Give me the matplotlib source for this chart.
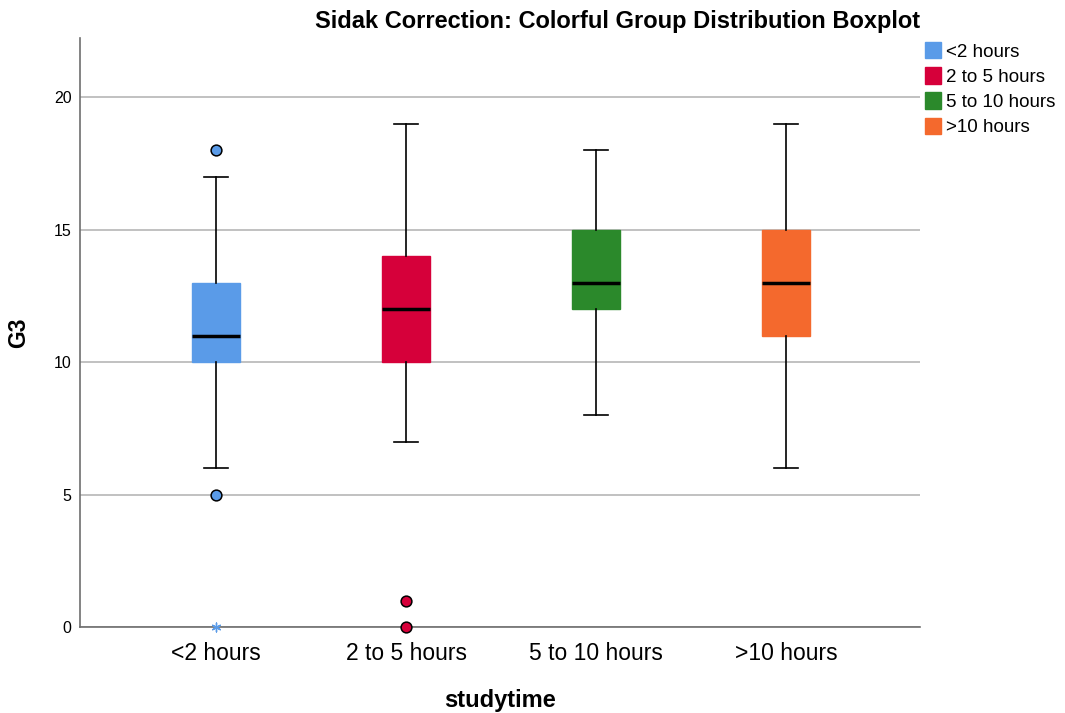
import numpy as np
import matplotlib.pyplot as plt
from matplotlib.patches import Patch

plt.rcParams['font.family'] = ['Liberation Sans', 'DejaVu Sans']

GROUPS = ['<2 hours', '2 to 5 hours', '5 to 10 hours', '>10 hours']
COLORS = ['#5a9be8', '#d6003a', '#2b892b', '#f4692d']

WHISLO = [6, 7, 8, 6]
Q1 = [10, 10, 12, 11]
MED = [11, 12, 13, 13]
Q3 = [13, 14, 15, 15]
WHISHI = [17, 19, 18, 19]
OUTLIERS = [[18, 5], [1, 0], [], []]
EXTREMES = [[0], [], [], []]

fig = plt.figure(figsize=(10.65, 7.13), dpi=100)
ax = fig.add_axes([80 / 1065, 1 - 627 / 713, 840 / 1065, 589 / 713])

stats = []
for i, g in enumerate(GROUPS):
  stats.append({'label': g, 'whislo': WHISLO[i], 'q1': Q1[i], 'med': MED[i],
                'q3': Q3[i], 'whishi': WHISHI[i], 'fliers': []})

pos = np.arange(len(GROUPS))
bp = ax.bxp(stats, positions=pos, widths=0.25, patch_artist=True,
            showfliers=False,
            whiskerprops=dict(color='black', linewidth=1.2),
            capprops=dict(color='black', linewidth=1.2),
            medianprops=dict(color='black', linewidth=2.5),
            capwidths=0.126, zorder=3)
for box, c in zip(bp['boxes'], COLORS):
  box.set_facecolor(c)
  box.set_edgecolor(c)

for i in range(len(GROUPS)):
  if OUTLIERS[i]:
    ax.scatter([pos[i]] * len(OUTLIERS[i]), OUTLIERS[i], s=60,
               facecolor=COLORS[i], edgecolor='black', linewidth=1.1,
               zorder=5, clip_on=False)
  if EXTREMES[i]:
    ax.scatter([pos[i]] * len(EXTREMES[i]), EXTREMES[i], s=40,
               marker=(6, 2, 0), color=COLORS[i], linewidth=1.0,
               zorder=5, clip_on=False)

ax.set_xlim(-0.716, 3.705)
ax.set_ylim(0, 22.23)
ax.set_yticks([0, 5, 10, 15, 20])
ax.yaxis.grid(True, color='#b0b0b0', linewidth=1.1, zorder=0)
ax.set_axisbelow(True)
ax.set_xticks(pos)
ax.set_xticklabels(GROUPS, fontsize=16.5)
ax.tick_params(axis='x', length=0, pad=11)
ax.tick_params(axis='y', length=0, labelsize=11.5, pad=6)

for s in ['top', 'right']:
  ax.spines[s].set_visible(False)
for s in ['left', 'bottom']:
  ax.spines[s].set_color('#6e6e6e')
  ax.spines[s].set_linewidth(1.2)

ax.set_xlabel('studytime', fontsize=17, fontweight='bold', labelpad=17)
ax.set_ylabel('G3', fontsize=16.5, fontweight='bold', labelpad=17)
ax.set_title('Sidak Correction: Colorful Group Distribution Boxplot',
             loc='right', fontsize=17, fontweight='bold', pad=7)

handles = [Patch(facecolor=c, edgecolor=c) for c in COLORS]
ax.legend(handles, GROUPS, loc='upper left', bbox_to_anchor=(0.99, 1.015),
          frameon=False, fontsize=13.5, handlelength=0.85, handleheight=0.95,
          handletextpad=0.3, labelspacing=0.35, borderaxespad=0.3)

plt.savefig('out.png', dpi=100)
